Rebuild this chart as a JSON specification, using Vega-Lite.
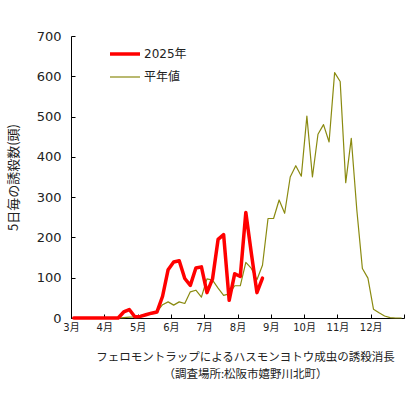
{
  "$schema": "https://vega.github.io/schema/vega-lite/v6.json",
  "autosize": "none",
  "width": 333,
  "height": 282,
  "padding": {"left": 71, "top": 36, "right": 16, "bottom": 76},
  "background": "white",
  "config": {"view": {"stroke": null}, "font": "DejaVu Sans, Noto Sans CJK JP"},
  "data": {"values": [
    {"h":1,"s":"平年値","v":0},{"h":2,"s":"平年値","v":0},{"h":3,"s":"平年値","v":0},{"h":4,"s":"平年値","v":0},{"h":5,"s":"平年値","v":0},{"h":6,"s":"平年値","v":0},{"h":7,"s":"平年値","v":0},{"h":8,"s":"平年値","v":0},{"h":9,"s":"平年値","v":0},{"h":10,"s":"平年値","v":1},
    {"h":11,"s":"平年値","v":2},{"h":12,"s":"平年値","v":3},{"h":13,"s":"平年値","v":6},{"h":14,"s":"平年値","v":9},{"h":15,"s":"平年値","v":12},{"h":16,"s":"平年値","v":16},{"h":17,"s":"平年値","v":33},{"h":18,"s":"平年値","v":40},{"h":19,"s":"平年値","v":32},{"h":20,"s":"平年値","v":40},
    {"h":21,"s":"平年値","v":36},{"h":22,"s":"平年値","v":65},{"h":23,"s":"平年値","v":69},{"h":24,"s":"平年値","v":52},{"h":25,"s":"平年値","v":97},{"h":26,"s":"平年値","v":94},{"h":27,"s":"平年値","v":74},{"h":28,"s":"平年値","v":56},{"h":29,"s":"平年値","v":60},{"h":30,"s":"平年値","v":80},
    {"h":31,"s":"平年値","v":80},{"h":32,"s":"平年値","v":138},{"h":33,"s":"平年値","v":123},{"h":34,"s":"平年値","v":95},{"h":35,"s":"平年値","v":131},{"h":36,"s":"平年値","v":247},{"h":37,"s":"平年値","v":247},{"h":38,"s":"平年値","v":293},{"h":39,"s":"平年値","v":260},{"h":40,"s":"平年値","v":350},
    {"h":41,"s":"平年値","v":378},{"h":42,"s":"平年値","v":352},{"h":43,"s":"平年値","v":501},{"h":44,"s":"平年値","v":350},{"h":45,"s":"平年値","v":456},{"h":46,"s":"平年値","v":480},{"h":47,"s":"平年値","v":437},{"h":48,"s":"平年値","v":609},{"h":49,"s":"平年値","v":587},{"h":50,"s":"平年値","v":336},
    {"h":51,"s":"平年値","v":446},{"h":52,"s":"平年値","v":268},{"h":53,"s":"平年値","v":123},{"h":54,"s":"平年値","v":99},{"h":55,"s":"平年値","v":22},{"h":56,"s":"平年値","v":13},{"h":57,"s":"平年値","v":5},{"h":58,"s":"平年値","v":1},{"h":59,"s":"平年値","v":0},{"h":60,"s":"平年値","v":0},
    {"h":1,"s":"2025年","v":0},{"h":2,"s":"2025年","v":0},{"h":3,"s":"2025年","v":0},{"h":4,"s":"2025年","v":0},{"h":5,"s":"2025年","v":0},{"h":6,"s":"2025年","v":0},{"h":7,"s":"2025年","v":0},{"h":8,"s":"2025年","v":0},{"h":9,"s":"2025年","v":0},{"h":10,"s":"2025年","v":15},
    {"h":11,"s":"2025年","v":21},{"h":12,"s":"2025年","v":3},{"h":13,"s":"2025年","v":4},{"h":14,"s":"2025年","v":8},{"h":15,"s":"2025年","v":12},{"h":16,"s":"2025年","v":15},{"h":17,"s":"2025年","v":54},{"h":18,"s":"2025年","v":120},{"h":19,"s":"2025年","v":139},{"h":20,"s":"2025年","v":142},
    {"h":21,"s":"2025年","v":98},{"h":22,"s":"2025年","v":81},{"h":23,"s":"2025年","v":124},{"h":24,"s":"2025年","v":127},{"h":25,"s":"2025年","v":63},{"h":26,"s":"2025年","v":97},{"h":27,"s":"2025年","v":195},{"h":28,"s":"2025年","v":207},{"h":29,"s":"2025年","v":44},{"h":30,"s":"2025年","v":110},
    {"h":31,"s":"2025年","v":103},{"h":32,"s":"2025年","v":262},{"h":33,"s":"2025年","v":160},{"h":34,"s":"2025年","v":63},{"h":35,"s":"2025年","v":99}
  ]},
  "mark": {"type": "line", "strokeJoin": "round", "strokeCap": "round"},
  "encoding": {
    "x": {
      "field": "h", "type": "quantitative",
      "scale": {"domain": [0.5, 60.5], "nice": false, "zero": false},
      "axis": {
        "values": [0.5, 6.5, 12.5, 18.5, 24.5, 30.5, 36.5, 42.5, 48.5, 54.5, 60.5],
        "labelExpr": "datum.value > 60 ? '' : (floor((datum.value - 0.5) / 6) + 3) + '月'",
        "grid": false, "domainColor": "#000", "tickColor": "#000", "tickSize": -4,
        "labelFont": "DejaVu Sans, Noto Sans CJK JP", "labelFontSize": 10, "labelColor": "#222", "labelPadding": 8,
        "labelFlush": false,
        "title": ["フェロモントラップによるハスモンヨトウ成虫の誘殺消長", "（調査場所:松阪市嬉野川北町）"],
        "titleFont": "Noto Sans CJK JP", "titleFontSize": 11.5, "titleFontWeight": "normal", "titleColor": "#222",
        "titlePadding": 19, "titleX": 174, "titleLineHeight": 17
      }
    },
    "y": {
      "field": "v", "type": "quantitative",
      "scale": {"domain": [0, 700], "nice": false},
      "axis": {
        "values": [0, 100, 200, 300, 400, 500, 600, 700],
        "grid": false, "domainColor": "#000", "tickColor": "#000", "tickSize": -4,
        "labelFont": "DejaVu Sans", "labelFontSize": 13, "labelColor": "#222", "labelPadding": 14,
        "title": "5日毎の誘殺数(頭)",
        "titleFont": "Noto Sans CJK JP", "titleFontSize": 13, "titleFontWeight": "normal", "titleColor": "#222",
        "titlePadding": 16
      }
    },
    "color": {
      "field": "s", "type": "nominal",
      "scale": {"domain": ["2025年", "平年値"], "range": ["#ff0000", "#8a8a10"]},
      "legend": {
        "title": null, "orient": "none", "legendX": 37, "legendY": 1,
        "symbolType": "stroke", "symbolSize": 900, "labelFontSize": 12, "labelColor": "#222",
        "labelFont": "DejaVu Sans, Noto Sans CJK JP", "labelOffset": 2, "rowPadding": 0, "padding": 0
      }
    },
    "strokeWidth": {
      "field": "s", "type": "nominal",
      "scale": {"domain": ["2025年", "平年値"], "range": [3.5, 1.2]},
      "legend": {
        "title": null, "orient": "none", "legendX": 37, "legendY": 1,
        "symbolType": "stroke", "symbolSize": 900, "labelFontSize": 12, "labelColor": "#222",
        "labelFont": "DejaVu Sans, Noto Sans CJK JP", "labelOffset": 2, "rowPadding": 0, "padding": 0
      }
    }
  }
}
